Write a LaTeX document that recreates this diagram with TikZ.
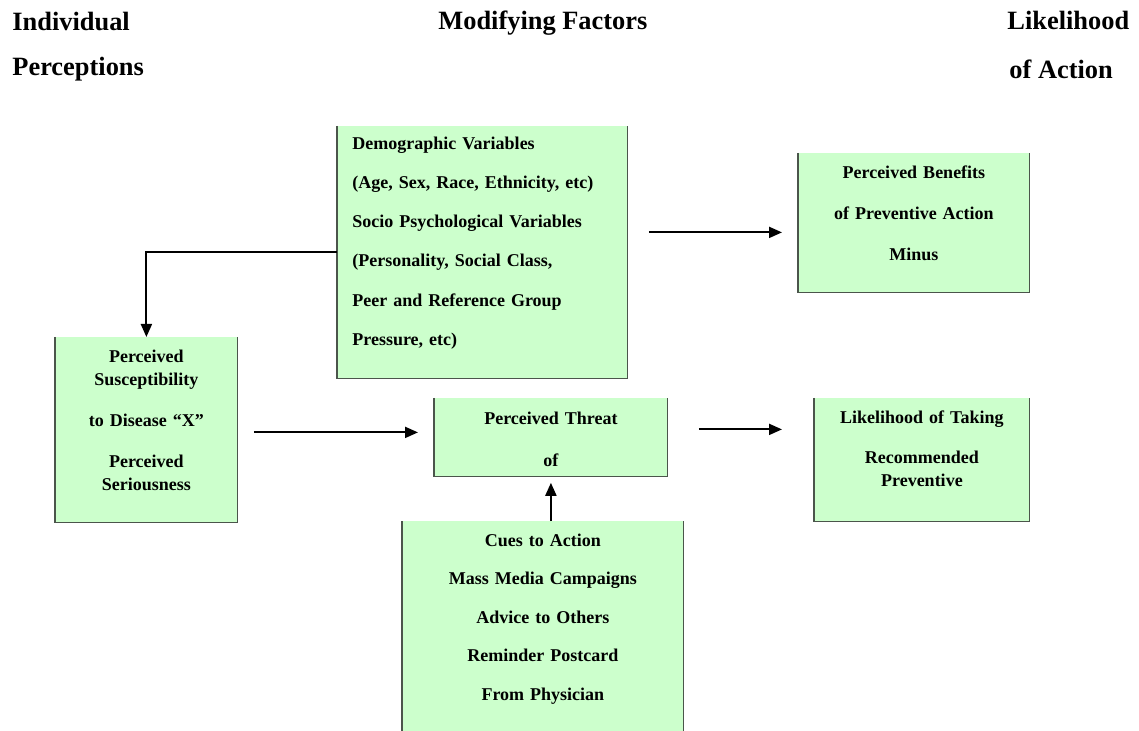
\documentclass[tikz,border=0pt]{standalone}
\usepackage{fontspec}
\setmainfont{Liberation Serif}
\usetikzlibrary{arrows.meta,calc}

\definecolor{boxgreen}{RGB}{204,255,204}
\definecolor{boxline}{RGB}{75,85,75}

\begin{document}
\begin{tikzpicture}[x=0.5pt,y=-0.5pt]
    \tikzstyle{heading} = [anchor=base west, inner sep=0pt, font=\bfseries\fontsize{13.2}{16}\selectfont]
    \tikzstyle{box} = [anchor=north west, fill=boxgreen, inner ysep=0pt, inner xsep=4pt, align=center]
    \tikzstyle{arr} = [draw=black, line width=1pt, -{Triangle[length=6.5pt,width=5.5pt]}]

    \useasboundingbox (0,0) rectangle (1139,731);

    %%% HEADINGS
    \node[heading] (h-ind) at (12,31) {Individual};
    \node[heading] (h-per) at (12,76) {Perceptions};
    \node[heading] (h-mod) at (438,30) {Modifying Factors};
    \node[heading] (h-lik) at (1007,30) {Likelihood};
    \node[heading] (h-act) at (1009,79) {of Action};

    %%% DRAW THE BOXES
    \node[box, align=left, inner xsep=7.5pt, text width=130pt, text height=11.5pt, text depth=114.5pt,
          font=\bfseries\fontsize{9}{19.6}\selectfont] (demo) at (337,126)
        {Demographic Variables\\(Age, Sex, Race, Ethnicity, etc)\\Socio Psychological Variables\\(Personality, Social Class,\\Peer and Reference Group\\Pressure, etc)};
    \node[box, text width=107.5pt, text height=12.5pt, text depth=57pt,
          font=\bfseries\fontsize{9}{20.5}\selectfont] (bene) at (798,153)
        {Perceived Benefits\\of Preventive Action\\Minus};
    \node[box, text width=83pt, text height=12.5pt, text depth=80pt,
          font=\bfseries\fontsize{9}{11.5}\selectfont] (susc) at (55,337)
        {Perceived\\Susceptibility\\[9pt]to Disease “X”\\[9pt]Perceived\\Seriousness};
    \node[box, text width=108.5pt, text height=13pt, text depth=26pt,
          font=\bfseries\fontsize{9}{21}\selectfont] (threat) at (434,398)
        {Perceived Threat\\of};
    \node[box, text width=99.5pt, text height=12.5pt, text depth=49pt,
          font=\bfseries\fontsize{9}{11.5}\selectfont] (like) at (814,398)
        {Likelihood of Taking\\[8.5pt]Recommended\\Preventive};
    \node[box, text width=132.5pt, text height=12.5pt, text depth=97pt,
          font=\bfseries\fontsize{9}{19.25}\selectfont] (cues) at (402,521)
        {Cues to Action\\Mass Media Campaigns\\Advice to Others\\Reminder Postcard\\From Physician};

    % boxes are open at the top
    \foreach \name in {demo,bene,susc,threat,like,cues}
        \draw[boxline, line width=0.6pt] (\name.north west) -- (\name.south west) -- (\name.south east) -- (\name.north east);

    %%% DRAW THE PATHS
    \draw[arr] (demo.west) -| (susc.north);
    \draw[arr] ($(demo.east)+(21,-20)$) -- ($(bene.west)+(-16,9.5)$);
    \draw[arr] ($(susc.east)+(16,2.5)$) -- ($(threat.west)+(-16,-5)$);
    \draw[arr] ($(threat.east)+(31,-8)$) -- ($(like.west)+(-32,-30.5)$);
    \draw[arr] (cues.north -| threat.south) -- ($(threat.south)+(0,6)$);

\end{tikzpicture}
\end{document}
